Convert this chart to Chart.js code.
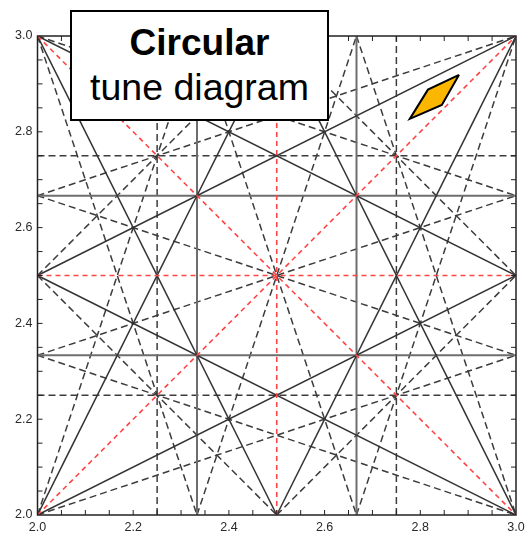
<!DOCTYPE html>
<html>
<head>
<meta charset="utf-8">
<script src="https://cdn.jsdelivr.net/npm/chart.js@4.4.0/dist/chart.umd.min.js"></script>
<style>
body{margin:0;background:#fff;}
#wrap{position:relative;width:526px;height:536px;}
#label{position:absolute;left:70px;top:10px;width:255px;height:107px;
  border:2px solid #000;background:#fff;text-align:center;color:#000;
  font-family:"Liberation Sans",Arial,sans-serif;}
#label .l1{font-size:37px;font-weight:bold;line-height:45px;padding-top:8px;}
#label .l2{font-size:37.5px;line-height:45px;}
</style>
</head>
<body>
<div id="wrap">
<canvas id="tuneChart" width="526" height="536"></canvas>
<div id="label"><div class="l1">Circular</div><div class="l2">tune diagram</div></div>
</div>
<script>

// resonance lines, each one [[qx1,qy1],[qx2,qy2]]
const order2 = [
  [[2.5,2],[2.5,3]], [[2,2.5],[3,2.5]], [[2,2],[3,3]], [[2,3],[3,2]]
]

// 3Qx, 3Qy lines
const order3Pure = [
  [[7/3,2],[7/3,3]], [[8/3,2],[8/3,3]], [[2,7/3],[3,7/3]], [[2,8/3],[3,8/3]]
]

// Qx +- 2Qy, 2Qx +- Qy
const order3Mixed = [
  [[2,2.5],[3,2]], [[2,3],[3,2.5]], [[2,2],[3,2.5]], [[2,2.5],[3,3]],
  [[2,3],[2.5,2]], [[2.5,3],[3,2]], [[2,2],[2.5,3]], [[2.5,2],[3,3]]
]

const order4 = [
  [[2.25,2],[2.25,3]], [[2.75,2],[2.75,3]], [[2,2.25],[3,2.25]], [[2,2.75],[3,2.75]],
  [[2,2.5],[2.5,2]], [[2.5,3],[3,2.5]], [[2,2.5],[2.5,3]], [[2.5,2],[3,2.5]],
  [[2,7/3],[3,2]], [[2,8/3],[3,7/3]], [[2,3],[3,8/3]],
  [[2,8/3],[3,3]], [[2,7/3],[3,8/3]], [[2,2],[3,7/3]],
  [[2,3],[7/3,2]], [[7/3,3],[8/3,2]], [[8/3,3],[3,2]],
  [[2,2],[7/3,3]], [[7/3,2],[8/3,3]], [[8/3,2],[3,3]]
]

// working point footprint
const footprintQx = [2.881, 2.816, 2.778, 2.845, 2.881]
const footprintQy = [2.919, 2.888, 2.827, 2.856, 2.919]

const tickLabels = [2.0, 2.2, 2.4, 2.6, 2.8, 3.0]


function lineSet(seg, color, width, dash, order){
    return {
        type:"line",
        data:seg.map(p => ({x:p[0], y:p[1]})),
        borderColor:color,
        borderWidth:width,
        borderDash:dash,
        pointRadius:0,
        fill:false,
        tension:0,
        order:order
    }
}

const datasets = []

datasets.push({
    type:"line",
    data:footprintQx.map((q,i) => ({x:q, y:footprintQy[i]})),
    borderColor:"#000",
    borderWidth:2,
    backgroundColor:"#FBB600",
    pointRadius:0,
    fill:"shape",
    tension:0,
    order:0
})

order2.forEach(s => datasets.push(lineSet(s, "#ff4444", 1.6, [5,4], 1)))
order3Mixed.forEach(s => datasets.push(lineSet(s, "#333", 1.5, [], 2)))
order3Pure.forEach(s => datasets.push(lineSet(s, "#6e6e6e", 2, [], 2)))
order4.forEach(s => datasets.push(lineSet(s, "#3c3c3c", 1.5, [7,4], 3)))


// frame plus inward ticks on every side
const frame = {
    id:"frame",
    afterDatasetsDraw(chart){
        const ctx = chart.ctx
        const a = chart.chartArea
        const sx = chart.scales.x
        const sy = chart.scales.y
        ctx.save()
        ctx.strokeStyle = "#222"
        ctx.lineWidth = 1
        ctx.beginPath()
        for(let i = 1; i < 20; i++){
            const v = 2 + i * 0.05
            const px = sx.getPixelForValue(v)
            const py = sy.getPixelForValue(v)
            ctx.moveTo(px, a.bottom); ctx.lineTo(px, a.bottom - 5)
            ctx.moveTo(px, a.top); ctx.lineTo(px, a.top + 5)
            ctx.moveTo(a.left, py); ctx.lineTo(a.left + 5, py)
            ctx.moveTo(a.right, py); ctx.lineTo(a.right - 5, py)
        }
        ctx.stroke()
        ctx.lineWidth = 1.5
        ctx.strokeRect(a.left, a.top, a.right - a.left, a.bottom - a.top)
        ctx.restore()
    }
}

const tickFont = {family:"'Liberation Sans', Arial, sans-serif", size:12.5}

new Chart(document.getElementById("tuneChart"),{

    type:"scatter",

    data:{datasets:datasets},

    options:{
        responsive:false,
        animation:false,
        layout:{padding:{left:0, right:10, top:36, bottom:0}},
        plugins:{legend:{display:false}, tooltip:{enabled:false}},
        scales:{
            x:{
                type:"linear",
                min:2, max:3,
                grid:{display:false, drawTicks:false},
                border:{display:false},
                afterBuildTicks: s => { s.ticks = tickLabels.map(v => ({value:v})) },
                afterFit: s => { s.height = 21; s.paddingLeft = 0; s.paddingRight = 0 },
                ticks:{color:"#2a2a2a", font:tickFont, padding:5, maxRotation:0,
                    callback: v => Number(v).toFixed(1)}
            },
            y:{
                type:"linear",
                min:2, max:3,
                grid:{display:false, drawTicks:false},
                border:{display:false},
                afterBuildTicks: s => { s.ticks = tickLabels.map(v => ({value:v})) },
                afterFit: s => { s.width = 37.5; s.paddingTop = 0; s.paddingBottom = 0 },
                ticks:{color:"#2a2a2a", font:tickFont, padding:5,
                    callback: v => Number(v).toFixed(1)}
            }
        }
    },
    plugins:[frame]

})

</script>
</body>
</html>
